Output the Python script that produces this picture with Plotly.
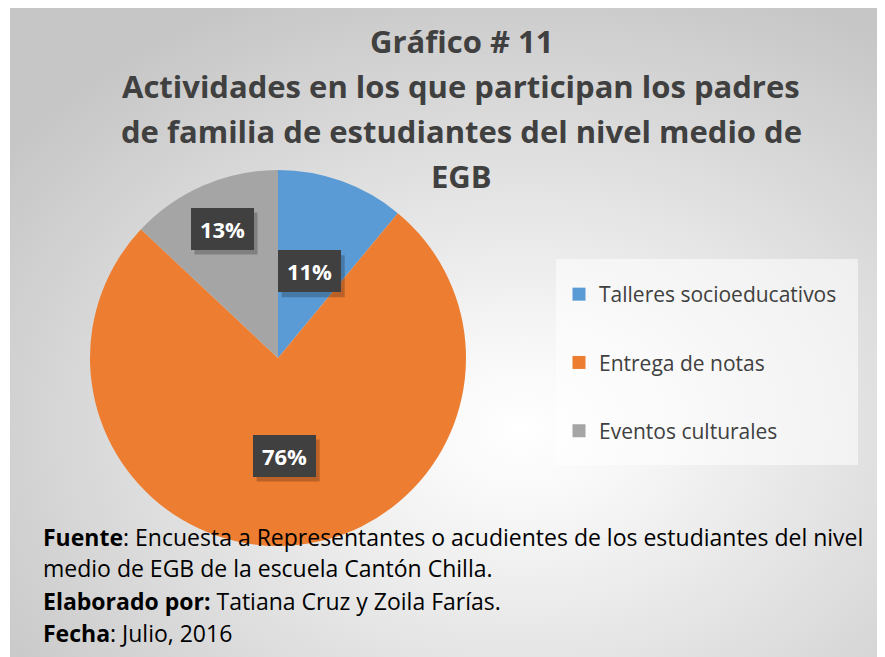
import base64
import math
import plotly.graph_objects as go

# ---------------- data ----------------
categories = ["Talleres socioeducativos", "Entrega de notas", "Eventos culturales"]
values = [11, 76, 13]
colors = ["#5B9BD5", "#ED7D31", "#A5A5A5"]

title_lines = [
    "Gráfico # 11",
    "Actividades en los que participan los padres",
    "de familia de estudiantes del nivel medio de",
    "EGB",
]
footer_lines = [
    "<b>Fuente</b>: Encuesta a Representantes o acudientes de los estudiantes del nivel",
    "medio de EGB de la escuela Cantón Chilla.",
    "<b>Elaborado por:</b> Tatiana Cruz y Zoila Farías.",
    "<b>Fecha</b>: Julio, 2016",
]

# ---------------- layout constants (figure pixels) ----------------
W, H = 885, 657
FONT = "Open Sans"
PIE_CX, PIE_CY, PIE_R = 270, 350, 188
LABEL_R = [0.49, 0.52, 0.75]          # radial position of each data label (fraction of radius)
BOX_W, BOX_H = 63, 42                 # data label box size


def px_x(x):
    return x / W


def px_y(y):
    return 1 - y / H


# background radial gradient as an svg image
svg = f"""<svg xmlns='http://www.w3.org/2000/svg' width='{W}' height='{H}' viewBox='0 0 {W} {H}' preserveAspectRatio='none'>
<defs><radialGradient id='g' cx='0.58' cy='0.64' r='0.72' gradientUnits='objectBoundingBox'>
<stop offset='0' stop-color='#ffffff'/><stop offset='0.18' stop-color='#f7f7f7'/>
<stop offset='1' stop-color='#c6c6c6'/></radialGradient></defs>
<rect x='0' y='0' width='{W}' height='{H}' fill='url(#g)'/></svg>"""
bg_uri = "data:image/svg+xml;base64," + base64.b64encode(svg.encode()).decode()

fig = go.Figure()

fig.add_trace(go.Pie(
    labels=categories,
    values=values,
    marker=dict(colors=colors, line=dict(width=0)),
    sort=False,
    direction="clockwise",
    rotation=0,
    textinfo="none",
    hoverinfo="label+percent",
    showlegend=False,
    domain=dict(x=[px_x(PIE_CX - PIE_R), px_x(PIE_CX + PIE_R)],
                y=[px_y(PIE_CY + PIE_R), px_y(PIE_CY - PIE_R)]),
))

# legend entries (separate groups so the spacing can be controlled)
for i, (cat, col) in enumerate(zip(categories, colors)):
    fig.add_trace(go.Scatter(
        x=[None], y=[None], mode="markers", name=cat,
        marker=dict(symbol="square", size=13, color=col),
        legendgroup=f"g{i}", showlegend=True,
    ))

annotations = []
shapes = [dict(type="rect", xref="paper", yref="paper",
               x0=px_x(548), x1=px_x(850), y0=px_y(457), y1=px_y(251),
               fillcolor="rgba(255,255,255,0.55)", line=dict(width=0), layer="below")]

# title lines
title_y = [33, 78, 123, 168]
for line, yy in zip(title_lines, title_y):
    annotations.append(dict(
        text=f"<b>{line}</b>", x=px_x(453), y=px_y(yy), xref="paper", yref="paper",
        xanchor="center", yanchor="middle", showarrow=False,
        font=dict(family=FONT, size=31, color="#404040"),
    ))

# data labels, positioned from the values
total = sum(values)
cum = 0
for v, rf in zip(values, LABEL_R):
    mid = (cum + v / 2) / total * 2 * math.pi
    cum += v
    lx = PIE_CX + PIE_R * rf * math.sin(mid)
    ly = PIE_CY - PIE_R * rf * math.cos(mid)
    pct = f"{round(v / total * 100)}%"
    # soft shadow behind the label box
    shapes.append(dict(
        type="rect", xref="paper", yref="paper", layer="above",
        x0=px_x(lx - BOX_W / 2 + 4), x1=px_x(lx + BOX_W / 2 + 4),
        y0=px_y(ly + BOX_H / 2 + 5), y1=px_y(ly - BOX_H / 2 + 5),
        fillcolor="rgba(0,0,0,0.22)", line=dict(width=0),
    ))
    annotations.append(dict(
        text=f"<b>{pct}</b>", x=px_x(lx), y=px_y(ly), xref="paper", yref="paper",
        xanchor="center", yanchor="middle",
        showarrow=False, width=BOX_W - 8, height=BOX_H - 8, borderpad=4, borderwidth=0,
        bgcolor="#404040", font=dict(family=FONT, size=22, color="white"),
    ))

# footer lines
footer_y = [529, 560, 593, 625]
for line, yy in zip(footer_lines, footer_y):
    annotations.append(dict(
        text=line, x=px_x(33), y=px_y(yy), xref="paper", yref="paper",
        xanchor="left", yanchor="middle", showarrow=False,
        font=dict(family=FONT, size=23, color="#000000"),
    ))

fig.update_layout(
    width=W, height=H,
    margin=dict(l=0, r=0, t=0, b=0),
    paper_bgcolor="white",
    plot_bgcolor="rgba(0,0,0,0)",
    xaxis=dict(visible=False),
    yaxis=dict(visible=False),
    images=[dict(source=bg_uri, xref="paper", yref="paper", x=px_x(2), y=1,
                 sizex=1 - px_x(2), sizey=1, sizing="stretch", layer="below")],
    shapes=shapes,
    legend=dict(
        x=px_x(551), y=px_y(266), xanchor="left", yanchor="top",
        bgcolor="rgba(0,0,0,0)", tracegroupgap=38,
        font=dict(family=FONT, size=21, color="#404040"),
    ),
    annotations=annotations,
    showlegend=True,
)

fig.write_html("out.html")
